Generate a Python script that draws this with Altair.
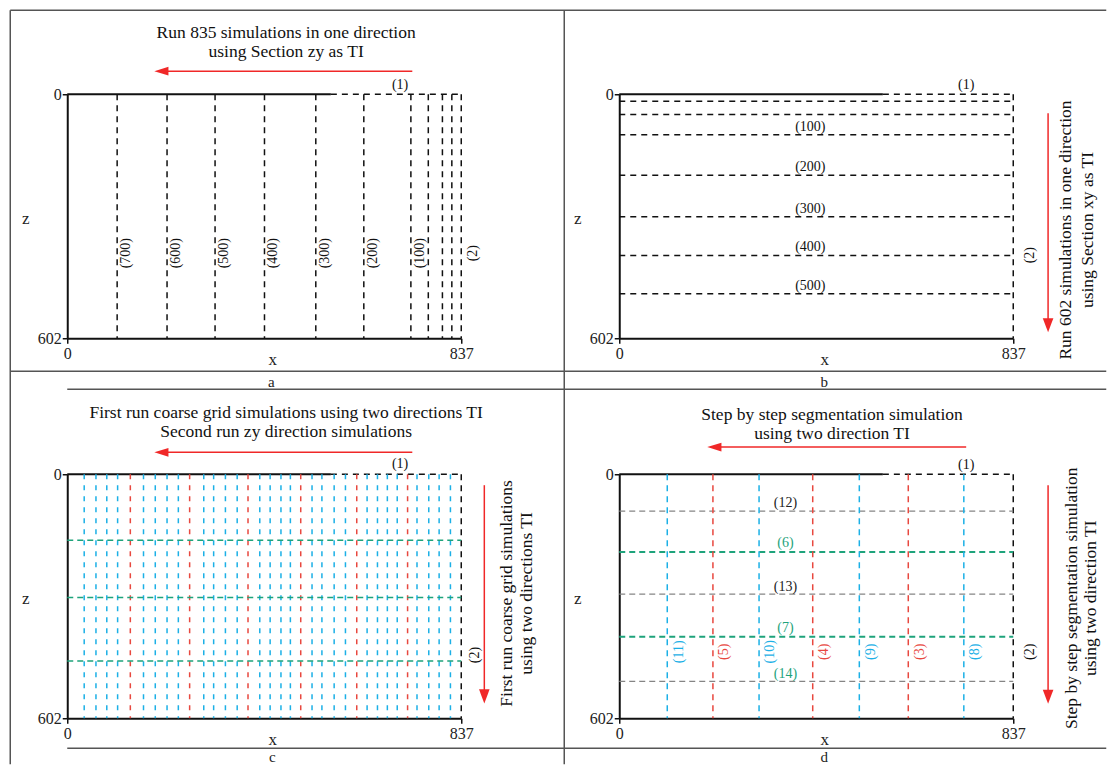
import altair as alt
import pandas as pd

# ---------------- data ----------------
X_MAX = 837
Z_MAX = 602
TOP_SOLID_END = 560

# panel a : zy sections, one direction
A_LINE_X = [106, 212, 314, 419, 528, 630, 730, 767, 797, 817]
A_LABEL_TEXT = ["(700)", "(600)", "(500)", "(400)", "(300)", "(200)", "(100)"]

# panel b : xy sections, one direction
B_LINE_Z = [17, 50, 100, 200, 302, 398, 492]
B_LABEL_Z = [100, 200, 302, 398, 492]
B_LABEL_TEXT = ["(100)", "(200)", "(300)", "(400)", "(500)"]

# panel c : coarse grid + zy fill
C_CYAN_X = [36, 61, 84, 107, 162, 187, 212, 236, 290, 311, 336, 361,
            409, 431, 454, 474, 520, 541, 567, 591, 637, 659, 680, 701,
            743, 768, 790, 814]
C_RED_X = [134, 260, 384, 496, 615, 723]
C_GREEN_Z = [163, 304, 461]

# panel d : step by step segmentation
D_CYAN_X = [102, 297, 510, 732]
D_CYAN_TEXT = ["(11)", "(10)", "(9)", "(8)"]
D_RED_X = [199, 411, 614]
D_RED_TEXT = ["(5)", "(4)", "(3)"]
D_GRAY_Z = [91, 296, 511]
D_GRAY_TEXT = ["(12)", "(13)", "(14)"]
D_GRAY_TEXT_COLOR = ["#222222", "#222222", "#1ea37b"]
D_GREEN_Z = [192, 401]
D_GREEN_TEXT = ["(6)", "(7)"]

TITLE_A = ["Run 835 simulations in one direction", "using Section zy as TI"]
TITLE_B = ["Run 602 simulations in one direction", "using Section xy as TI"]
TITLE_C = ["First run coarse grid simulations using two directions TI",
           "Second run zy direction simulations"]
SIDE_C = ["First run coarse grid simulations", "using two directions TI"]
TITLE_D = ["Step by step segmentation simulation", "using two direction TI"]
SIDE_D = ["Step by step segmentation simulation", "using two direction TI"]

# ---------------- styling ----------------
SERIF = "Liberation Serif"
BLACK = "#111111"
CYAN = "#1cb0e6"
RED = "#e8483f"
GREEN = "#1ea37b"
GRAY = "#858585"
ARROW_RED = "#f02828"
FRAME = "#555555"
W, H = 394, 244
TSIZE = 17.5
LSIZE = 14

XS = alt.Scale(domain=[0, X_MAX], nice=False, zero=False)
ZS = alt.Scale(domain=[0, Z_MAX], nice=False, zero=False, reverse=True)

XAXIS = alt.Axis(values=[0, X_MAX], title="x", labelFlush=False, grid=False,
                 domainColor=BLACK, domainWidth=2, tickColor=BLACK, tickWidth=1.5,
                 tickSize=5, labelFont=SERIF, labelFontSize=16, labelColor="#222",
                 labelPadding=2, titleFont=SERIF, titleFontSize=17,
                 titleFontWeight="normal", titleColor="#222", titleX=205, titleY=21,
                 titleAlign="center", titleBaseline="middle", labelOverlap=False)
YAXIS = alt.Axis(values=[0, Z_MAX], title="z", grid=False, domainColor=BLACK,
                 domainWidth=2, tickColor=BLACK, tickWidth=1.5, tickSize=5,
                 labelFont=SERIF, labelFontSize=16, labelColor="#222", labelPadding=1,
                 titleFont=SERIF, titleFontSize=17, titleFontWeight="normal",
                 titleColor="#222", titleAngle=0, titleX=-42, titleY=124,
                 titleAlign="center", titleBaseline="middle", labelOverlap=False)


def X(field):
    return alt.X(field, type="quantitative", scale=XS, axis=XAXIS)


def Z(field):
    return alt.Y(field, type="quantitative", scale=ZS, axis=YAXIS)


def vrules(xs, color, dash, width=1.5):
    df = pd.DataFrame({"x": xs, "z0": 0, "z1": Z_MAX})
    return alt.Chart(df).mark_rule(color=color, strokeDash=dash, strokeWidth=width).encode(
        x=X("x"), y=Z("z0"), y2=alt.Y2("z1"))


def hrules(zs, color, dash, width=1.5):
    df = pd.DataFrame({"z": zs, "x0": 0, "x1": X_MAX})
    return alt.Chart(df).mark_rule(color=color, strokeDash=dash, strokeWidth=width).encode(
        x=X("x0"), x2=alt.X2("x1"), y=Z("z"))


def texts(xs, zs, labels, color=BLACK, size=LSIZE, angle=0, colors=None):
    df = pd.DataFrame({"x": xs, "z": zs, "text": labels})
    enc = dict(x=X("x"), y=Z("z"), text="text:N")
    if colors is not None:
        df["c"] = colors
        enc["color"] = alt.Color("c:N", scale=None)
    mk = alt.Chart(df).mark_text(font=SERIF, fontSize=size, color=color, angle=angle,
                                 align="center", baseline="middle")
    return mk.encode(**enc)


def base_layer():
    df = pd.DataFrame({"x0": [0], "x1": [TOP_SOLID_END], "z": [0]})
    top_solid = alt.Chart(df).mark_rule(color=BLACK, strokeWidth=2).encode(
        x=X("x0"), x2=alt.X2("x1"), y=Z("z"))
    df2 = pd.DataFrame({"x0": [TOP_SOLID_END], "x1": [X_MAX], "z": [0]})
    top_dash = alt.Chart(df2).mark_rule(color=BLACK, strokeWidth=1.5, strokeDash=[6, 5]).encode(
        x=X("x0"), x2=alt.X2("x1"), y=Z("z"))
    right_dash = vrules([X_MAX], BLACK, [6, 5])
    return [top_solid, top_dash, right_dash]


def left_arrow(x_tip, x_tail, z):
    head_c = x_tip + 15
    line = alt.Chart(pd.DataFrame({"x0": [head_c], "x1": [x_tail], "z": [z]})).mark_rule(
        color=ARROW_RED, strokeWidth=1.5).encode(x=X("x0"), x2=alt.X2("x1"), y=Z("z"))
    head = alt.Chart(pd.DataFrame({"x": [head_c], "z": [z]})).mark_point(
        shape="M -1 0 L 1 -0.62 L 1 0.62 Z", size=200, filled=True, opacity=1,
        color=ARROW_RED, strokeWidth=0).encode(x=X("x"), y=Z("z"))
    return [line, head]


def down_arrow(x, z_tail, z_tip):
    head_c = z_tip - 17
    line = alt.Chart(pd.DataFrame({"x": [x], "z0": [z_tail], "z1": [head_c]})).mark_rule(
        color=ARROW_RED, strokeWidth=1.5).encode(x=X("x"), y=Z("z0"), y2=alt.Y2("z1"))
    head = alt.Chart(pd.DataFrame({"x": [x], "z": [head_c]})).mark_point(
        shape="M 0 1 L -0.75 -1 L 0.75 -1 Z", size=200, filled=True, opacity=1,
        color=ARROW_RED, strokeWidth=0).encode(x=X("x"), y=Z("z"))
    return [line, head]


def frame_layers():
    def hline(x0, x1, y):
        return alt.Chart(pd.DataFrame({"d": [0]})).mark_rule(
            color=FRAME, strokeWidth=1.5).encode(x=alt.value(x0), x2=alt.value(x1), y=alt.value(y))

    def vline(x, y0, y1):
        return alt.Chart(pd.DataFrame({"d": [0]})).mark_rule(
            color=FRAME, strokeWidth=1.5).encode(x=alt.value(x), y=alt.value(y0), y2=alt.value(y1))

    def letter(x, y, t):
        return alt.Chart(pd.DataFrame({"d": [0]})).mark_text(
            font=SERIF, fontSize=15, color="#222", align="center", baseline="middle").encode(
            x=alt.value(x), y=alt.value(y), text=alt.value(t))

    return [hline(-57, 1039, -84), vline(-57, -84, 670), hline(-57, 1039, 277),
            hline(0, 1039, 295), vline(497, -84, 670), hline(0, 1039, 654),
            letter(204, 288, "a"), letter(757, 288, "b"),
            letter(205, 663, "c"), letter(757, 663, "d")]


# ---------------- panel a ----------------
a_layers = base_layer() + [
    vrules(A_LINE_X, BLACK, [6, 5]),
    texts([x + 19 for x in A_LINE_X[:7]], [392] * 7, A_LABEL_TEXT, angle=270),
    texts([862], [392], ["(2)"], angle=270),
    texts([707], [-22], ["(1)"]),
    texts([465, 465], [-150, -104], TITLE_A, size=TSIZE),
] + left_arrow(185, 733, -57) + frame_layers()
panel_a = alt.layer(*a_layers).properties(width=W, height=H)

# ---------------- panel b ----------------
b_layers = base_layer() + [
    hrules(B_LINE_Z, BLACK, [6, 5]),
    texts([406] * 5, [z - 20 for z in B_LABEL_Z], B_LABEL_TEXT),
    texts([873], [397], ["(2)"], angle=270),
    texts([737], [-24], ["(1)"]),
    texts([950, 995], [335, 335], TITLE_B, size=TSIZE, angle=270),
] + down_arrow(911, 47, 587)
panel_b = alt.layer(*b_layers).properties(width=W, height=H)

# ---------------- panel c ----------------
c_layers = base_layer() + [
    vrules(C_CYAN_X, CYAN, [5, 6]),
    vrules(C_RED_X, RED, [5, 6]),
    hrules(C_GREEN_Z, GREEN, [6, 4]),
    texts([867], [446], ["(2)"], angle=270),
    texts([707], [-25], ["(1)"]),
    texts([465, 465], [-150, -104], TITLE_C, size=TSIZE),
    texts([935, 977], [294, 294], SIDE_C, size=TSIZE, angle=270),
] + left_arrow(185, 733, -54) + down_arrow(886, 27, 565)
panel_c = alt.layer(*c_layers).properties(width=W, height=H)

# ---------------- panel d ----------------
d_layers = base_layer() + [
    hrules(D_GRAY_Z, GRAY, [6, 4], 1.3),
    hrules(D_GREEN_Z, GREEN, [6, 4], 2),
    vrules(D_CYAN_X, CYAN, [6, 5]),
    vrules(D_RED_X, RED, [6, 5]),
    texts([x + 24 for x in D_CYAN_X], [438] * 4, D_CYAN_TEXT, color=CYAN, angle=270),
    texts([x + 24 for x in D_RED_X], [438] * 3, D_RED_TEXT, color=RED, angle=270),
    texts([353] * 3, [z - 19 for z in D_GRAY_Z], D_GRAY_TEXT, colors=D_GRAY_TEXT_COLOR),
    texts([353] * 2, [z - 22 for z in D_GREEN_Z], D_GREEN_TEXT, color=GREEN),
    texts([873], [438], ["(2)"], angle=270),
    texts([737], [-22], ["(1)"]),
    texts([452, 452], [-146, -99], TITLE_D, size=TSIZE),
    texts([962, 1003], [306, 306], SIDE_D, size=TSIZE, angle=270),
] + left_arrow(187, 737, -67) + down_arrow(911, 27, 566)
panel_d = alt.layer(*d_layers).properties(width=W, height=H)

chart = alt.concat(panel_a, panel_b, panel_c, panel_d, columns=2,
                   spacing={"row": 136, "column": 158}, bounds="flush").properties(
    padding={"left": 9.25, "top": 9.25, "right": 0, "bottom": 0},
    background="white",
).configure_view(stroke=None)

chart.save("out.html", embed_options={"renderer": "svg", "actions": False})
